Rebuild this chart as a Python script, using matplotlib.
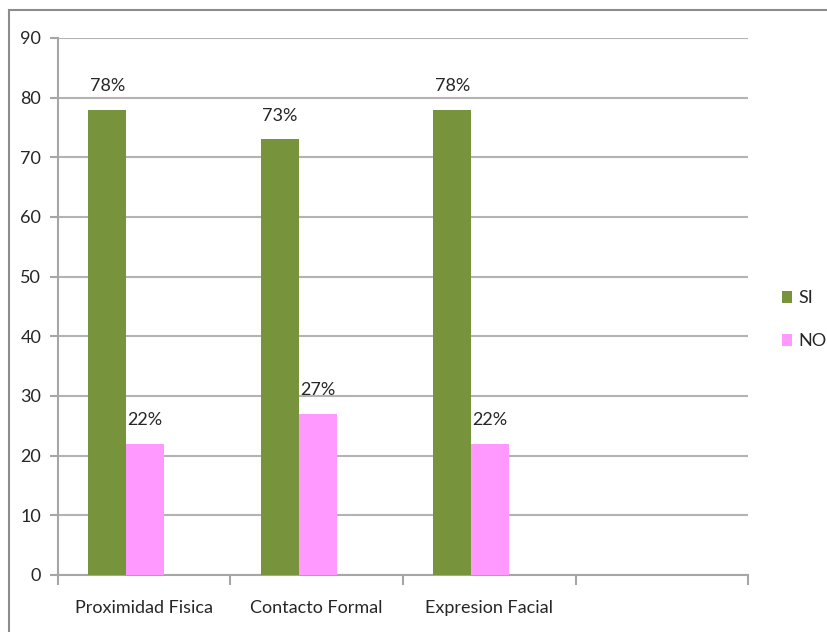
import matplotlib
matplotlib.use("Agg")
import matplotlib.pyplot as plt
from matplotlib.lines import Line2D

# chart data
categorias = ["Proximidad Fisica", "Contacto Formal", "Expresion Facial", ""]
si_vals = [78, 73, 78]
no_vals = [22, 27, 22]
si_labels = ["78%", "73%", "78%"]
no_labels = ["22%", "27%", "22%"]

plt.rcParams['font.family'] = ['Lato', 'DejaVu Sans']
fs = 13

fig = plt.figure(figsize=(8.27, 6.32), dpi=100)
ax = fig.add_axes([0.0701, 0.0902, 0.8344, 0.8497])

bw = 0.22
x_si = [i - 0.215 for i in range(len(si_vals))]
x_no = [i + 0.005 for i in range(len(no_vals))]

ax.bar(x_si, si_vals, width=bw, color="#77933C", label="SI", zorder=3)
ax.bar(x_no, no_vals, width=bw, color="#FF99FF", label="NO", zorder=3)

for x, v, t in zip(x_si, si_vals, si_labels):
    ax.text(x, v + 2.6, t, ha="center", va="bottom", fontsize=fs, color="#262626")
for x, v, t in zip(x_no, no_vals, no_labels):
    ax.text(x, v + 2.6, t, ha="center", va="bottom", fontsize=fs, color="#262626")

ax.set_xlim(-0.5, 3.5)
ax.set_ylim(0, 90)
ax.set_yticks(range(0, 91, 10))
ax.set_xticks(range(len(categorias)))
ax.set_xticklabels(categorias, fontsize=fs, color="#262626")
ax.set_xticks([-0.5, 0.5, 1.5, 2.5, 3.5], minor=True)
ax.tick_params(axis="x", which="major", length=0, pad=18)
ax.tick_params(axis="x", which="minor", length=7, color="#a6a6a6", width=1.5)
ax.tick_params(axis="y", length=6, color="#a6a6a6", width=1.5, labelsize=fs,
               labelcolor="#262626", pad=6)

ax.grid(axis="y", color="#b3b3b3", linewidth=1.5, zorder=0)
for s in ["top", "right"]:
    ax.spines[s].set_visible(False)
for s in ["left", "bottom"]:
    ax.spines[s].set_color("#a6a6a6")
    ax.spines[s].set_linewidth(1.5)

ax.legend(loc="center left", bbox_to_anchor=(1.025, 0.475), frameon=False,
          fontsize=fs, handlelength=0.6, handleheight=0.6, handletextpad=0.35,
          labelspacing=1.5, labelcolor="#262626")

# outer chart frame (left and top edges)
fig.add_artist(Line2D([0.011, 0.011], [0.0, 0.984], color="#8c8c8c", lw=1.5,
                      transform=fig.transFigure))
fig.add_artist(Line2D([0.011, 1.0], [0.984, 0.984], color="#8c8c8c", lw=1.5,
                      transform=fig.transFigure))

fig.savefig("out.png", dpi=100)
